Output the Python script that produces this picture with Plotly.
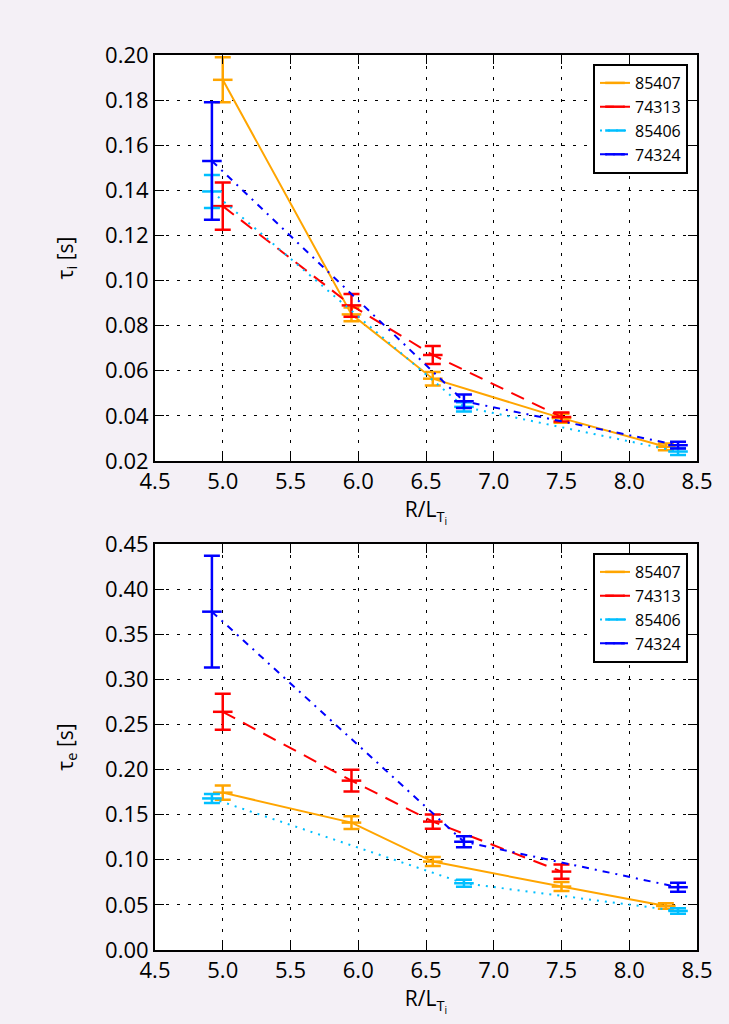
import plotly.graph_objects as go

# ---------------- data ----------------
names = ["85407", "74313", "85406", "74324"]

x_85407 = [5.0, 5.95, 6.55, 7.5, 8.27]
x_74313 = [5.0, 5.95, 6.55, 7.5]
x_85406 = [4.92, 6.78, 8.36]
x_74324 = [4.92, 6.78, 8.36]

# tau_i [s]
taui_85407 = [0.189, 0.085, 0.0565, 0.039, 0.0263]
taui_85407_err = [0.010, 0.003, 0.003, 0.002, 0.0015]
taui_74313 = [0.133, 0.089, 0.067, 0.0395]
taui_74313_err = [0.0105, 0.005, 0.004, 0.002]
taui_85406 = [0.1395, 0.044, 0.0242]
taui_85406_err = [0.0073, 0.002, 0.0015]
taui_74324 = [0.153, 0.0465, 0.027]
taui_74324_err = [0.026, 0.003, 0.0015]

# tau_e [s]
taue_85407 = [0.1744, 0.1412, 0.098, 0.0703, 0.0488]
taue_85407_err = [0.008, 0.007, 0.005, 0.005, 0.003]
taue_74313 = [0.264, 0.1877, 0.1423, 0.0869]
taue_74313_err = [0.020, 0.012, 0.008, 0.008]
taue_85406 = [0.168, 0.074, 0.0433]
taue_85406_err = [0.005, 0.004, 0.003]
taue_74324 = [0.375, 0.120, 0.0696]
taue_74324_err = [0.062, 0.006, 0.005]

x_ticks = [4.5, 5.0, 5.5, 6.0, 6.5, 7.0, 7.5, 8.0, 8.5]
yi_ticks = [0.02, 0.04, 0.06, 0.08, 0.10, 0.12, 0.14, 0.16, 0.18, 0.20]
ye_ticks = [0.00, 0.05, 0.10, 0.15, 0.20, 0.25, 0.30, 0.35, 0.40, 0.45]

# ---------------- style ----------------
colors = ["#FFA500", "#FF0000", "#00BFFF", "#0000FF"]
dashes = ["solid", "14px,9px", "2px,6px", "7px,6px,2px,6px"]
FONT = "Open Sans"
BG = "#F4F0F6"

fig = go.Figure()

top_series = [
    (x_85407, taui_85407, taui_85407_err),
    (x_74313, taui_74313, taui_74313_err),
    (x_85406, taui_85406, taui_85406_err),
    (x_74324, taui_74324, taui_74324_err),
]
bot_series = [
    (x_85407, taue_85407, taue_85407_err),
    (x_74313, taue_74313, taue_74313_err),
    (x_85406, taue_85406, taue_85406_err),
    (x_74324, taue_74324, taue_74324_err),
]

for panel, series, xa, ya, leg in [
    (0, top_series, "x", "y", "legend"),
    (1, bot_series, "x2", "y2", "legend2"),
]:
    for i, (xs, ys, es) in enumerate(series):
        fig.add_trace(go.Scatter(
            x=xs, y=ys, name=names[i], xaxis=xa, yaxis=ya, legend=leg,
            mode="lines+markers",
            line=dict(color=colors[i], width=2, dash=dashes[i]),
            marker=dict(symbol="line-ew", size=14, color=colors[i],
                        line=dict(color=colors[i], width=2.5)),
            error_y=dict(type="data", array=es, visible=True,
                         color=colors[i], thickness=2.5, width=8),
            cliponaxis=True,
        ))

axis_common = dict(
    showline=True, linecolor="black", linewidth=2, mirror="allticks",
    ticks="inside", ticklen=9, tickwidth=1, tickcolor="black",
    showgrid=True, gridcolor="black", gridwidth=1, griddash="3px,8px",
    zeroline=False, automargin=False,
    tickfont=dict(family=FONT, size=22, color="black"),
)
title_font = dict(family=FONT, size=21, color="black")

xdom = [155 / 729, 697 / 729]
fig.update_layout(
    width=729, height=1024,
    paper_bgcolor=BG, plot_bgcolor="white",
    margin=dict(l=0, r=0, t=0, b=0, autoexpand=False),
    showlegend=True,
    xaxis=dict(axis_common, domain=xdom, anchor="y", range=[4.5, 8.5],
               tickvals=x_ticks, tickformat=".1f",
               title=dict(text="R/L<sub>T<sub>i</sub></sub>", font=title_font,
                          standoff=7)),
    yaxis=dict(axis_common, domain=[1 - 461 / 1024, 1 - 55 / 1024], anchor="x",
               range=[0.02, 0.20], tickvals=yi_ticks, tickformat=".2f",
               title=dict(text="τ<sub>i</sub> [s]", font=title_font,
                          standoff=26)),
    xaxis2=dict(axis_common, domain=xdom, anchor="y2", range=[4.5, 8.5],
                tickvals=x_ticks, tickformat=".1f",
                title=dict(text="R/L<sub>T<sub>i</sub></sub>", font=title_font,
                           standoff=7)),
    yaxis2=dict(axis_common, domain=[1 - 950 / 1024, 1 - 544 / 1024], anchor="x2",
                range=[0.0, 0.45], tickvals=ye_ticks, tickformat=".2f",
                title=dict(text="τ<sub>e</sub> [s]", font=title_font,
                           standoff=26)),
    legend=dict(x=688 / 729, y=1 - 64 / 1024, xanchor="right", yanchor="top",
                bgcolor="white", bordercolor="black", borderwidth=2,
                font=dict(family=FONT, size=16, color="black"),
                tracegroupgap=0, itemwidth=30),
    legend2=dict(x=688 / 729, y=1 - 553 / 1024, xanchor="right", yanchor="top",
                 bgcolor="white", bordercolor="black", borderwidth=2,
                 font=dict(family=FONT, size=16, color="black"),
                 tracegroupgap=0, itemwidth=30),
)

fig.write_html(
    "out.html",
    config={"responsive": False, "displayModeBar": False},
    post_script="document.body.style.margin='0';document.body.style.overflow='hidden';",
)
